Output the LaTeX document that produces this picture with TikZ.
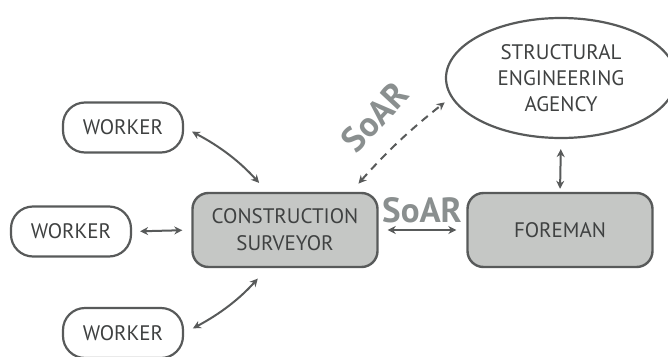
\documentclass[tikz,border=0pt]{standalone}
\usepackage{fontspec}
\setmainfont{PT Sans}
\usetikzlibrary{arrows.meta,shapes.geometric}
\definecolor{edge}{HTML}{585A5A}
\definecolor{boxfill}{HTML}{C5C7C5}
\definecolor{txt}{HTML}{3F4141}
\definecolor{soarc}{HTML}{8A8F8F}
\tikzset{
  pill/.style={draw=edge, line width=2.2pt, rounded corners=22pt, minimum width=120pt, minimum height=50pt, text=txt, font=\fontsize{21}{25}\selectfont, inner sep=0pt},
  mainbox/.style={draw=edge, line width=2.4pt, fill=boxfill, rounded corners=16pt, minimum width=185pt, minimum height=74pt, text=txt, font=\fontsize{21}{27}\selectfont, align=center, inner sep=0pt},
  agency/.style={draw=edge, line width=2.2pt, ellipse, minimum width=230pt, minimum height=120pt, text=txt, font=\fontsize{21}{26}\selectfont, align=center, inner sep=0pt},
  link/.style={draw=edge, line width=2pt, {Stealth[length=8pt,width=8pt]}-{Stealth[length=8pt,width=8pt]}},
  soar/.style={text=soarc, font=\fontsize{35}{35}\selectfont\bfseries, inner sep=0pt}
}
\begin{document}
\begin{tikzpicture}[x=1pt,y=-1pt]
\useasboundingbox (0,0) rectangle (668,356);
\node[pill] (w1) at (123,127.5) {WORKER};
\node[pill] (w2) at (71,231.5) {WORKER};
\node[pill] (w3) at (123,333) {WORKER};
\node[mainbox] (cs) at (285,230) {CONSTRUCTION\\SURVEYOR};
\node[mainbox] (fm) at (560,230) {FOREMAN};
\node[agency] (sea) at (561,78) {STRUCTURAL\\ENGINEERING\\AGENCY};
\node[soar] (s1) at (422,210) {SoAR};
\node[soar, rotate=47] (s2) at (375,117) {SoAR};
\draw[link, shorten <=9pt, shorten >=12pt] (w1.east) to[bend left=10] (cs.115);
\draw[link, shorten <=8pt, shorten >=9pt] (w2.east) -- (cs.west);
\draw[link, shorten <=10pt, shorten >=14pt] (w3.east) to[bend right=10] (cs.245);
\draw[link, shorten <=9pt, shorten >=10pt] (cs.east) -- (fm.west);
\draw[link, shorten <=10pt, shorten >=3pt] (sea.south) -- (fm.north);
\draw[link, dash pattern=on 8pt off 6pt, shorten <=11pt, shorten >=8pt] (cs.30) to[bend left=5] (sea.190);
\end{tikzpicture}
\end{document}
